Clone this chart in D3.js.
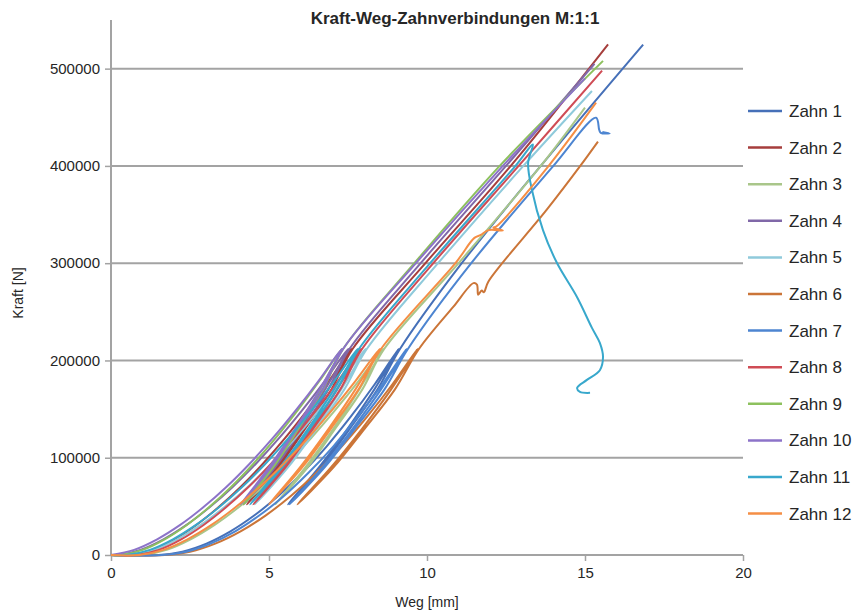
<!DOCTYPE html>
<html>
<head>
<meta charset="utf-8">
<script src="https://cdn.jsdelivr.net/npm/d3@7"></script>
<style>
  body { margin: 0; background: #fff; }
  text { font-family: "Liberation Sans", Arial, sans-serif; fill: #262626; }
</style>
</head>
<body>
<div id="chart"></div>
<script>
var width = 859;
var height = 612;

// tick values
var xTicks = [0, 5, 10, 15, 20];
var yTicks = [0, 100000, 200000, 300000, 400000, 500000];

// series names + colors (legend order)
var names  = ["Zahn 1", "Zahn 2", "Zahn 3", "Zahn 4", "Zahn 5", "Zahn 6",
              "Zahn 7", "Zahn 8", "Zahn 9", "Zahn 10", "Zahn 11", "Zahn 12"];
var colors = ["#4670B8", "#A63E3C", "#A9C68A", "#8068A8", "#8FCADB", "#CB7538",
              "#4D85D1", "#CF4C55", "#8DC15E", "#8C73C9", "#38A8CC", "#F58E45"];

// Weg [mm], Kraft [N] (load, unload, reload, final)
var zahn1 = [[0,0],[1.5,0],[2.26,3400],[3.02,11700],[3.78,24300],[4.54,40800],[5.3,60900],[6.06,84500],[6.82,111500],[7.58,141900],[8.34,175300],[9.1,212000],
  [8.33,170000],[7.49,130000],[6.58,90000],[5.6,52000],
  [6.65,90000],[7.56,130000],[8.43,170000],[9.15,212000],[11.1,300000],[13.6,400000],[16.84,524700]];
var zahn2 = [[0,0],[0.6,0],[1.3,5300],[2.0,16100],[2.7,30900],[3.4,49000],[4.1,69900],[4.8,93600],[5.5,119800],[6.2,148400],[6.9,179100],[7.6,212000],
  [6.87,170000],[6.08,130000],[5.22,90000],[4.3,52000],
  [5.29,90000],[6.15,130000],[6.97,170000],[7.65,212000],[9.95,300000],[12.65,400000],[15.73,525000]];
var zahn3 = [[0,0],[1.0,0],[1.76,5300],[2.52,16100],[3.28,30900],[4.04,49000],[4.8,69900],[5.56,93600],[6.32,119800],[7.08,148400],[7.84,179100],[8.6,212000],
  [7.85,170000],[7.04,130000],[6.15,90000],[5.2,52000],
  [6.22,90000],[7.1,130000],[7.95,170000],[8.65,212000],[11.0,300000],[13.6,400000],[15.0,460000]];
var zahn4 = [[0,0],[0.2,0],[0.93,5300],[1.66,16100],[2.39,30900],[3.12,49000],[3.85,69900],[4.58,93600],[5.31,119800],[6.04,148400],[6.77,179100],[7.5,212000],
  [6.77,170000],[5.98,130000],[5.12,90000],[4.2,52000],
  [5.19,90000],[6.05,130000],[6.87,170000],[7.55,212000],[9.8,300000],[12.5,400000],[15.3,505000]];
var zahn5 = [[0,0],[0.6,0],[1.35,5300],[2.09,16100],[2.84,30900],[3.58,49000],[4.33,69900],[5.07,93600],[5.82,119800],[6.56,148400],[7.31,179100],[8.05,212000],
  [7.28,170000],[6.44,130000],[5.53,90000],[4.55,52000],
  [5.6,90000],[6.51,130000],[7.38,170000],[8.1,212000],[10.35,300000],[13.05,400000],[15.22,477000]];
var zahn6 = [[0,0],[1.7,0],[2.5,3400],[3.3,11700],[4.1,24300],[4.9,40800],[5.7,60900],[6.5,84500],[7.3,111500],[8.1,141900],[8.9,175300],[9.7,212000],
  [8.86,170000],[7.95,130000],[6.96,90000],[5.9,52000],
  [7.04,90000],[8.03,130000],[8.98,170000],[9.75,212000],[10.83,255000],[11.47,279500],[11.58,278000],[11.62,267500],[11.73,272000],[11.8,270000],[11.94,281000],
  [13.79,355000],[14.85,400000],[15.41,425000]];
var zahn7 = [[0,0],[1.6,0],[2.38,3400],[3.15,11700],[3.93,24300],[4.7,40800],[5.48,60900],[6.25,84500],[7.03,111500],[7.8,141900],[8.58,175300],[9.35,212000],
  [8.54,170000],[7.65,130000],[6.69,90000],[5.65,52000],
  [6.76,90000],[7.72,130000],[8.65,170000],[9.4,212000],[11.4,300000],[14.0,400000],[15.35,449600],[15.45,437000],[15.5,434000],[15.78,433500],[15.55,435000]];
var zahn8 = [[0,0],[0.8,0],[1.51,5300],[2.22,16100],[2.93,30900],[3.64,49000],[4.35,69900],[5.06,93600],[5.77,119800],[6.48,148400],[7.19,179100],[7.9,212000],
  [7.15,170000],[6.34,130000],[5.45,90000],[4.5,52000],
  [5.52,90000],[6.4,130000],[7.25,170000],[7.95,212000],[10.2,300000],[12.9,400000],[15.54,498000]];
var zahn9 = [[0,0],[0.3,0],[1.0,5300],[1.7,16100],[2.4,30900],[3.1,49000],[3.8,69900],[4.5,93600],[5.2,119800],[5.9,148400],[6.6,179100],[7.3,212000],
  [6.62,170000],[5.87,130000],[5.07,90000],[4.2,52000],
  [5.13,90000],[5.94,130000],[6.71,170000],[7.35,212000],[9.6,300000],[12.3,400000],[15.57,508000]];
var zahn10 = [[0,0],[0.73,5300],[1.46,16100],[2.19,30900],[2.92,49000],[3.65,69900],[4.38,93600],[5.11,119800],[5.84,148400],[6.57,179100],[7.3,212000],
  [6.6,170000],[5.83,130000],[5.0,90000],[4.1,52000],
  [5.06,90000],[5.89,130000],[6.69,170000],[7.35,212000],[9.65,300000],[12.4,400000],[15.0,490000]];
var zahn11 = [[0,0],[0.5,0],[1.23,5300],[1.96,16100],[2.69,30900],[3.42,49000],[4.15,69900],[4.88,93600],[5.61,119800],[6.34,148400],[7.07,179100],[7.8,212000],
  [7.05,170000],[6.24,130000],[5.35,90000],[4.4,52000],
  [5.42,90000],[6.3,130000],[7.15,170000],[7.85,212000],[10.1,300000],[12.8,400000],[13.35,422000],
  [13.2,403000],[13.32,375500],[13.67,334000],[14.11,300400],[14.75,265000],[15.22,233500],[15.47,218000],[15.57,203700],[15.47,190000],[15.06,180000],[14.75,171800],[14.84,167700],[15.16,166700]];
var zahn12 = [[0,0],[0.9,0],[1.66,5300],[2.42,16100],[3.18,30900],[3.94,49000],[4.7,69900],[5.46,93600],[6.22,119800],[6.98,148400],[7.74,179100],[8.5,212000],
  [7.73,170000],[6.89,130000],[5.98,90000],[5.0,52000],
  [6.05,90000],[6.96,130000],[7.83,170000],[8.55,212000],[10.9,300000],[11.5,326000],[11.7,329000],[11.95,334000],[12.4,333500],[12.1,336500],[12.2,338000],
  [13.8,398000],[15.35,465000]];

var seriesData = [zahn1, zahn2, zahn3, zahn4, zahn5, zahn6, zahn7, zahn8, zahn9, zahn10, zahn11, zahn12];

var margin = {left: 111, right: 116, top: 20, bottom: 57};

var svg = d3.select("#chart").append("svg")
    .attr("width", width)
    .attr("height", height);

var x = d3.scaleLinear().domain([0, 20]).range([margin.left, width - margin.right]);
var y = d3.scaleLinear().domain([0, 550000]).range([height - margin.bottom, margin.top]);

// gridlines
svg.append("g")
  .selectAll("line")
  .data(yTicks.slice(1))
  .join("line")
    .attr("x1", x(0)).attr("x2", x(20))
    .attr("y1", d => y(d)).attr("y2", d => y(d))
    .style("stroke", "#A3A3A3")
    .style("stroke-width", 2);

// axes
var xAxis = svg.append("g")
  .attr("transform", "translate(0," + y(0) + ")")
  .call(d3.axisBottom(x).tickValues(xTicks).tickSize(6).tickPadding(6).tickFormat(d3.format("d")));
var yAxis = svg.append("g")
  .attr("transform", "translate(" + x(0) + ",0)")
  .call(d3.axisLeft(y).tickValues(yTicks).tickSize(6).tickPadding(5).tickFormat(d3.format("d")));

[xAxis, yAxis].forEach(function(a){
  a.select(".domain").style("stroke", "#A3A3A3").style("stroke-width", 2);
  a.selectAll(".tick line").style("stroke", "#A3A3A3").style("stroke-width", 1.5);
  a.selectAll(".tick text").style("font-size", "15px").style("fill", "#262626")
    .style("font-family", "'Liberation Sans', Arial, sans-serif");
});
// y axis runs up to the top of the plot
yAxis.select(".domain").attr("d", "M0," + y(0) + "V" + margin.top);
xAxis.select(".domain").attr("d", "M" + x(0) + ",0H" + x(20));

// lines
var line = d3.line()
  .x(d => x(d[0]))
  .y(d => y(d[1]))
  .curve(d3.curveCatmullRom.alpha(0.5));

svg.append("g")
  .selectAll("path")
  .data(seriesData)
  .join("path")
    .attr("d", line)
    .style("fill", "none")
    .style("stroke", (d, i) => colors[i])
    .style("stroke-width", 2)
    .style("stroke-linejoin", "round");

// title
svg.append("text")
  .attr("x", 455).attr("y", 24)
  .attr("text-anchor", "middle")
  .style("font-size", "17px")
  .style("font-weight", "bold")
  .text("Kraft-Weg-Zahnverbindungen M:1:1");

// axis titles
svg.append("text")
  .attr("x", x(10)).attr("y", 607)
  .attr("text-anchor", "middle")
  .style("font-size", "14px")
  .text("Weg [mm]");

svg.append("text")
  .attr("transform", "translate(23,293) rotate(-90)")
  .attr("text-anchor", "middle")
  .style("font-size", "14px")
  .text("Kraft [N]");

// legend
var legend = svg.append("g")
  .selectAll("g")
  .data(names)
  .join("g")
    .attr("transform", (d, i) => "translate(748," + (111 + i * 36.6) + ")");
legend.append("line")
  .attr("x1", 0).attr("x2", 34)
  .style("stroke", (d, i) => colors[i])
  .style("stroke-width", 2.5);
legend.append("text")
  .attr("x", 41).attr("y", 6)
  .style("font-size", "17px")
  .text(d => d);
</script>
</body>
</html>
